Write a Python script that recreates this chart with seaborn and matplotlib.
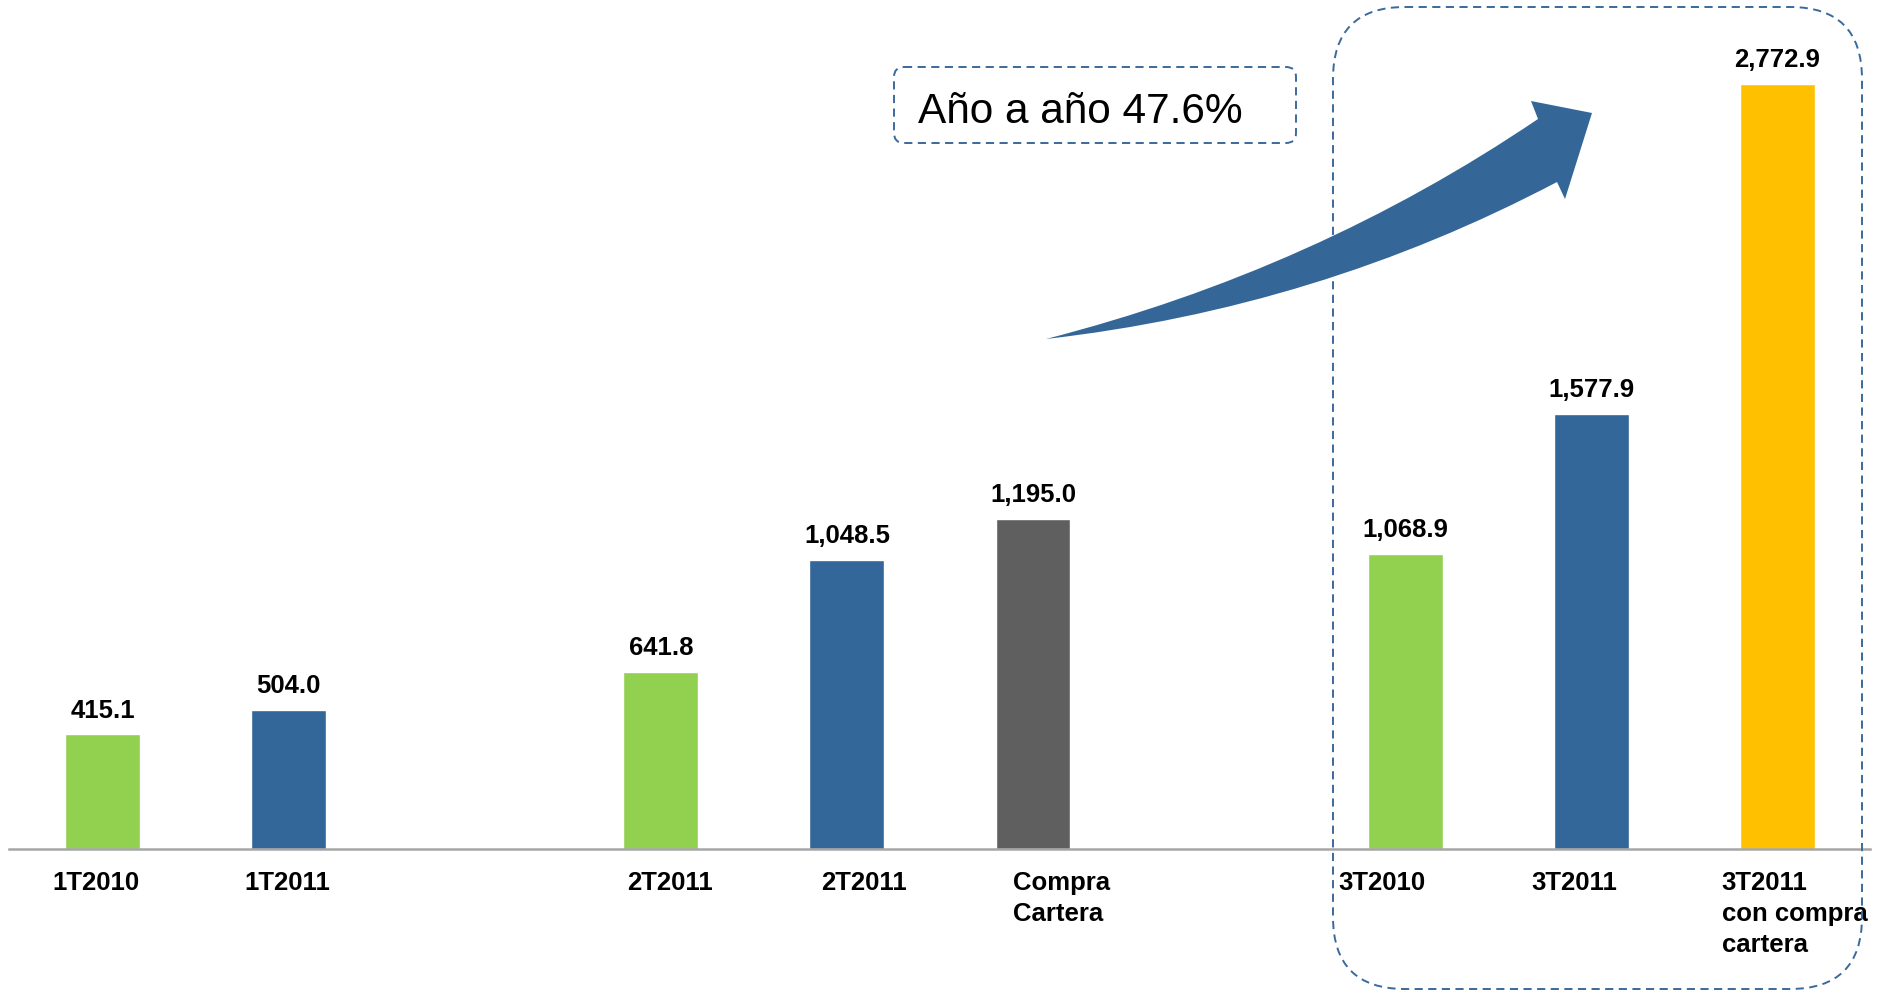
import numpy as np
import pandas as pd
import seaborn as sns
import matplotlib.pyplot as plt
from matplotlib.patches import FancyBboxPatch, PathPatch
from matplotlib.path import Path

# datos del grafico
positions = [0, 1, 3, 4, 5, 7, 8, 9]
values = [415.1, 504.0, 641.8, 1048.5, 1195.0, 1068.9, 1577.9, 2772.9]
groups = ['2010', '2011', '2010', '2011', 'compra', '2010', '2011', 'con_compra']
labels = ['1T2010', '1T2011', '2T2011', '2T2011', 'Compra\nCartera',
          '3T2010', '3T2011', '3T2011\ncon compra\ncartera']
growth_text = 'Año a año 47.6%'

colors = {'2010': '#92D050', '2011': '#336699', 'compra': '#5F5F5F', 'con_compra': '#FFC000'}
label_dx = [-0.27, -0.24, -0.18, -0.14, -0.11, -0.36, -0.32, -0.30]

df = pd.DataFrame({'pos': positions, 'value': values, 'group': groups})

sns.set_style('white')
plt.rcParams['font.family'] = ['Liberation Sans', 'DejaVu Sans']
plt.rcParams['text.color'] = 'black'

fig = plt.figure(figsize=(18.77, 9.9), dpi=100)
ax = fig.add_axes([9.45 / 1877, 141 / 990, 1861 / 1877, 849 / 990])

sns.barplot(data=df, x='pos', y='value', hue='group', palette=colors,
            native_scale=True, dodge=False, width=0.403, legend=False,
            saturation=1, ax=ax)

ax.set_xlim(-0.5, 9.5)
ax.set_ylim(0, 3077.4)
for s in ['top', 'left', 'right']:
    ax.spines[s].set_visible(False)
ax.spines['bottom'].set_color('#A6A6A6')
ax.spines['bottom'].set_linewidth(1.8)
ax.set_xticks([])
ax.set_yticks([])
ax.set_xlabel('')
ax.set_ylabel('')
ax.patch.set_alpha(0)

# etiquetas de valor
for p, v in zip(positions, values):
    ax.annotate(f'{v:,.1f}', (p, v), xytext=(0, 12.2), textcoords='offset points',
                ha='center', va='baseline', fontsize=18.5, fontweight='bold',
                color='black')

# etiquetas de categoria
for p, lab, dx in zip(positions, labels, label_dx):
    ax.annotate(lab, (p + dx, 0), xytext=(0, -16), textcoords='offset points',
                ha='left', va='top', fontsize=18.5, fontweight='bold',
                color='black', linespacing=1.35, annotation_clip=False)

# capa de anotaciones en pixeles
ov = fig.add_axes([0, 0, 1, 1], zorder=5)
ov.set_xlim(0, 1877)
ov.set_ylim(990, 0)
ov.axis('off')
ov.patch.set_alpha(0)

line_col = '#3A6A9C'
big = FancyBboxPatch((1333, 7), 1862 - 1333, 989 - 7,
                     boxstyle='round,pad=0,rounding_size=72',
                     fill=False, edgecolor=line_col, linewidth=1.4,
                     linestyle=(0, (4.2, 2.8)))
ov.add_patch(big)

small = FancyBboxPatch((894, 67), 1296 - 894, 143 - 67,
                       boxstyle='round,pad=0,rounding_size=10',
                       fill=False, edgecolor=line_col, linewidth=1.4,
                       linestyle=(0, (4.2, 2.8)))
ov.add_patch(small)
ov.text(918, 123, growth_text, fontsize=30.5, ha='left', va='baseline', color='black')

# flecha curva
verts = [(1046, 339), (1315, 270), (1538, 119), (1531, 101), (1592, 113),
         (1565, 199), (1557, 182), (1318, 308), (1046, 339), (1046, 339)]
codes = [Path.MOVETO, Path.CURVE3, Path.CURVE3, Path.LINETO, Path.LINETO,
         Path.LINETO, Path.LINETO, Path.CURVE3, Path.CURVE3, Path.CLOSEPOLY]
ov.add_patch(PathPatch(Path(verts, codes), facecolor='#346798', edgecolor='none'))

fig.savefig('out.png', dpi=100)
